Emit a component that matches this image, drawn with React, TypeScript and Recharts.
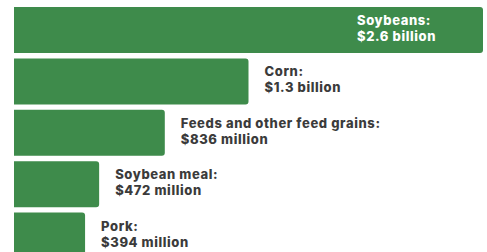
import { BarChart, Bar, XAxis, YAxis, LabelList } from "recharts";

const categories = ["Soybeans", "Corn", "Feeds and other feed grains", "Soybean meal", "Pork"];
const valuesMillions = [2600, 1300, 836, 472, 394];
const valueLabels = ["$2.6 billion", "$1.3 billion", "$836 million", "$472 million", "$394 million"];

const GREEN = "#3e8b4b";
const TEXT = "#3b3b3b";

const data = categories.map((name, i) => ({
  name,
  value: valuesMillions[i],
  label: valueLabels[i],
}));

function BarLabel(props: any) {
  const { x, y, width, height, index } = props;
  const row = data[index];
  const inside = index === 0;
  const tx = inside ? x + width - 126 : x + width + 16;
  const cy = y + height / 2;
  const style = {
    fill: inside ? "#ffffff" : TEXT,
    fontFamily: "Inter, sans-serif",
    fontWeight: 800,
    fontSize: 13,
    letterSpacing: 0.6,
  };
  return (
    <g>
      <text x={tx} y={cy - 5} textAnchor="start" style={style}>
        {row.name}:
      </text>
      <text x={tx} y={cy + 11} textAnchor="start" style={style}>
        {row.label}
      </text>
    </g>
  );
}

export default function App() {
  return (
    <div
      style={{
        position: "absolute",
        left: 0,
        top: 0,
        width: 487,
        height: 252,
        overflow: "hidden",
        background: "#ffffff",
      }}
    >
      <BarChart
        width={487}
        height={261}
        data={data}
        layout="vertical"
        margin={{ top: 4, right: 4, bottom: 0, left: 14 }}
      >
        <XAxis type="number" domain={[0, 2600]} hide />
        <YAxis type="category" dataKey="name" hide />
        <Bar
          dataKey="value"
          fill={GREEN}
          barSize={46}
          radius={[0, 3, 3, 0]}
          isAnimationActive={false}
        >
          <LabelList dataKey="label" content={<BarLabel />} />
        </Bar>
      </BarChart>
    </div>
  );
}
